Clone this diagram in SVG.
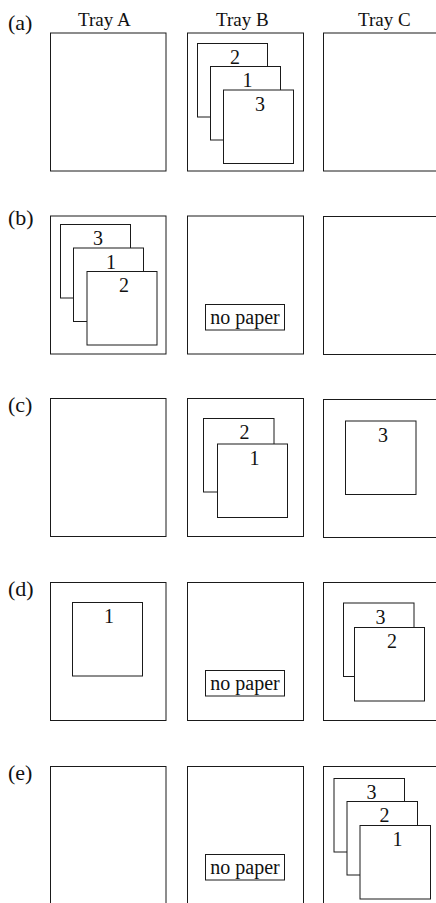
<svg xmlns="http://www.w3.org/2000/svg" width="436" height="903" viewBox="0 0 436 903" font-family="'Liberation Serif', 'DejaVu Serif', serif">
<style>
  .tray { fill: #fff; stroke: #1a1a1a; stroke-width: 1; }
  .paper { fill: #fff; stroke: #1a1a1a; stroke-width: 1; }
  .np { fill: #fff; stroke: #1a1a1a; stroke-width: 1; }
  text { font-family: 'Liberation Serif', 'DejaVu Serif', serif; fill: #111; }
  .hdr { font-size: 19px; }
  .row { font-size: 22px; }
  .num { font-size: 20px; text-anchor: middle; }
  .nptxt { font-size: 20px; text-anchor: middle; }
</style>
<rect width="436" height="903" fill="#fff"/>

<g id="headers">
  <text class="hdr" x="78" y="26">Tray A</text>
  <text class="hdr" x="216" y="26">Tray B</text>
  <text class="hdr" x="358" y="26">Tray C</text>
</g>

<!-- Row (a) -->
<g id="row-a">
  <text class="row" x="8" y="29.5">(a)</text>
  <g id="a-trayA"><rect class="tray" x="50.5" y="33" width="115.5" height="138"/></g>
  <g id="a-trayB">
    <rect class="tray" x="187.5" y="33" width="116" height="138"/>
    <rect class="paper" x="197.5" y="43.5" width="70" height="73.5"/>
    <text class="num" x="235" y="63.5">2</text>
    <rect class="paper" x="210.5" y="66.5" width="70" height="73.5"/>
    <text class="num" x="247.5" y="87">1</text>
    <rect class="paper" x="223.5" y="90" width="70" height="73.5"/>
    <text class="num" x="260" y="111">3</text>
  </g>
  <g id="a-trayC"><rect class="tray" x="323.5" y="33" width="116" height="138"/></g>
</g>

<!-- Row (b) -->
<g id="row-b">
  <text class="row" x="8" y="224.5">(b)</text>
  <g id="b-trayA">
    <rect class="tray" x="50.5" y="216" width="115.5" height="138"/>
    <rect class="paper" x="60.5" y="224.5" width="70" height="73.5"/>
    <text class="num" x="98" y="245">3</text>
    <rect class="paper" x="73.5" y="248" width="70" height="73.5"/>
    <text class="num" x="111" y="268.5">1</text>
    <rect class="paper" x="87" y="271.5" width="70" height="73.5"/>
    <text class="num" x="124" y="292">2</text>
  </g>
  <g id="b-trayB">
    <rect class="tray" x="187.5" y="216" width="116" height="138"/>
    <rect class="np" x="205.5" y="304.5" width="79" height="25.5"/>
    <text class="nptxt" x="245" y="323.5">no paper</text>
  </g>
  <g id="b-trayC"><rect class="tray" x="323.5" y="216.5" width="116" height="138"/></g>
</g>

<!-- Row (c) -->
<g id="row-c">
  <text class="row" x="8" y="411.5">(c)</text>
  <g id="c-trayA"><rect class="tray" x="50.5" y="398.5" width="115.5" height="138"/></g>
  <g id="c-trayB">
    <rect class="tray" x="187.5" y="398.5" width="116" height="138"/>
    <rect class="paper" x="203.5" y="418.5" width="70.5" height="73.5"/>
    <text class="num" x="244.5" y="439">2</text>
    <rect class="paper" x="217.5" y="444" width="70" height="73.5"/>
    <text class="num" x="254.5" y="464.5">1</text>
  </g>
  <g id="c-trayC">
    <rect class="tray" x="323.5" y="399.5" width="116" height="138"/>
    <rect class="paper" x="345.5" y="421" width="70.5" height="73.5"/>
    <text class="num" x="383" y="441.5">3</text>
  </g>
</g>

<!-- Row (d) -->
<g id="row-d">
  <text class="row" x="8" y="595.5">(d)</text>
  <g id="d-trayA">
    <rect class="tray" x="50.5" y="582.5" width="115.5" height="138"/>
    <rect class="paper" x="72.5" y="602.5" width="70" height="73.5"/>
    <text class="num" x="109" y="623">1</text>
  </g>
  <g id="d-trayB">
    <rect class="tray" x="187.5" y="582.5" width="116" height="138"/>
    <rect class="np" x="205.5" y="670.5" width="79" height="25.5"/>
    <text class="nptxt" x="245" y="689.5">no paper</text>
  </g>
  <g id="d-trayC">
    <rect class="tray" x="323.5" y="582.5" width="116" height="138"/>
    <rect class="paper" x="343.5" y="603" width="70.5" height="73.5"/>
    <text class="num" x="380.5" y="623.5">3</text>
    <rect class="paper" x="354.5" y="627.5" width="70" height="73.5"/>
    <text class="num" x="392" y="648">2</text>
  </g>
</g>

<!-- Row (e) -->
<g id="row-e">
  <text class="row" x="8" y="779.5">(e)</text>
  <g id="e-trayA"><rect class="tray" x="50.5" y="766.5" width="115.5" height="138"/></g>
  <g id="e-trayB">
    <rect class="tray" x="187.5" y="766.5" width="116" height="138"/>
    <rect class="np" x="205.5" y="854.5" width="79" height="25.5"/>
    <text class="nptxt" x="245" y="873.5">no paper</text>
  </g>
  <g id="e-trayC">
    <rect class="tray" x="323.5" y="766.5" width="116" height="138"/>
    <rect class="paper" x="334" y="778.5" width="70.5" height="73.5"/>
    <text class="num" x="371.5" y="799">3</text>
    <rect class="paper" x="347" y="801.5" width="70.5" height="73.5"/>
    <text class="num" x="384.5" y="822">2</text>
    <rect class="paper" x="360" y="825.5" width="70.5" height="73.5"/>
    <text class="num" x="397.5" y="846">1</text>
  </g>
</g>

<g id="connectors"></g>
</svg>
